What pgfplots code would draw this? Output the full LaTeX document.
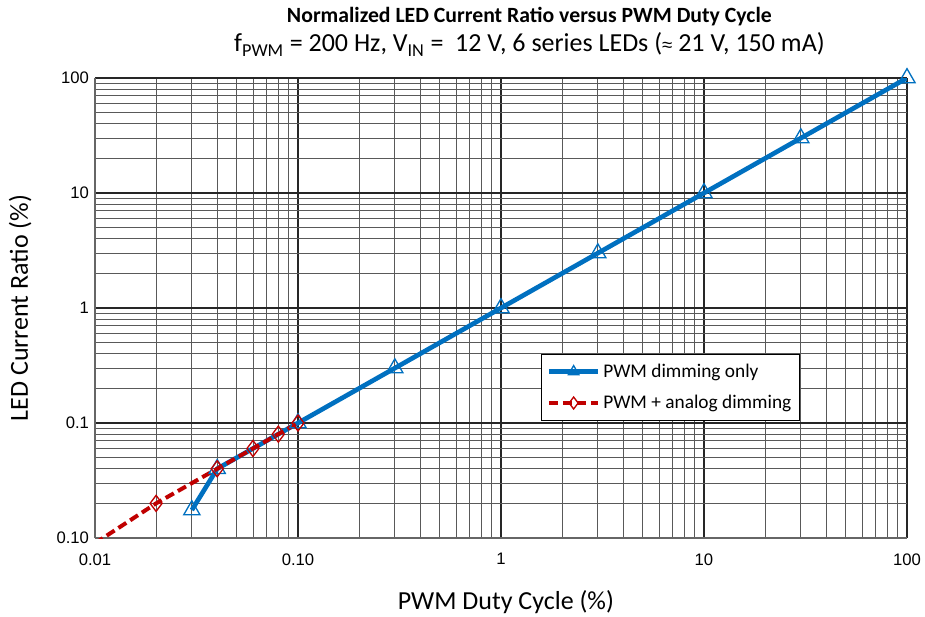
\documentclass[border=0pt]{standalone}
\usepackage{pgfplots}
\pgfplotsset{compat=1.18}
\usepackage{fontspec}
\setmainfont{Carlito}
\newfontfamily\tickfont{Liberation Sans}
\definecolor{cblue}{HTML}{0070C0}
\definecolor{cred}{HTML}{C00000}
\begin{document}
\begin{tikzpicture}
\begin{axis}[
  anchor=south west, at={(0,0)},
  scale only axis,
  width=609pt, height=345pt,
  xmode=log, ymode=log,
  xmin=0.01, xmax=100, ymin=0.01, ymax=100,
  xtick={0.01,0.1,1,10,100}, xticklabels={0.01,0.10,1,10,100},
  ytick={0.01,0.1,1,10,100}, yticklabels={0.10,0.1,1,10,100},
  minor xtick={0.02,0.03,0.04,0.05,0.06,0.07,0.08,0.09,0.2,0.3,0.4,0.5,0.6,0.7,0.8,0.9,2,3,4,5,6,7,8,9,20,30,40,50,60,70,80,90},
  minor ytick={0.02,0.03,0.04,0.05,0.06,0.07,0.08,0.09,0.2,0.3,0.4,0.5,0.6,0.7,0.8,0.9,2,3,4,5,6,7,8,9,20,30,40,50,60,70,80,90},
  major tick length=0pt, minor tick length=0pt,
  grid=both,
  major grid style={black!85, line width=0.8pt},
  minor grid style={black!65, line width=0.65pt},
  axis line style={black!60, line width=0.8pt},
  axis x line*=bottom, axis y line*=left,
  tick label style={font=\tickfont\fontsize{12.5}{14}\selectfont},
  /pgf/number format/assume math mode=true,
  xticklabel style={yshift=-8pt},
  yticklabel style={xshift=-1pt},
  xlabel={PWM Duty Cycle (\%)},
  ylabel={LED Current Ratio (\%)},
  xlabel style={font=\fontsize{19.5}{22}\selectfont, at={(axis description cs:0.506,-0.139)}, anchor=center},
  ylabel style={font=\fontsize{19.5}{22}\selectfont, at={(axis description cs:-0.092,0.5)}, anchor=center},
  title={{\fontsize{16.3}{19}\selectfont\bfseries Normalized LED Current Ratio versus PWM Duty Cycle}\\[4pt]{\fontsize{19.5}{22}\selectfont f\textsubscript{PWM} = 200 Hz, V\textsubscript{IN} =\ \ 12 V, 6 series LEDs ({\tickfont\fontsize{14}{16}\selectfont ≈} 21 V, 150 mA)}},
  title style={align=center, at={(axis description cs:0.535,1.083)}, anchor=center},
  legend style={at={(axis description cs:0.549,0.40)}, anchor=north west, draw=black, line width=0.8pt, fill=white,
    font=\fontsize{14.5}{17}\selectfont, row sep=8pt, inner xsep=4pt, inner ysep=5pt},
  legend cell align=left,
  legend image code/.code={
    \draw[#1] (0cm,0cm) -- (1.3cm,0cm);
    \draw[#1, solid, mark size=4.5pt] plot coordinates {(0.65cm,0cm)};
  },
]
\addplot[cblue, line width=3.5pt, mark=triangle, mark size=7pt, mark options={solid, line width=1pt, cblue}]
  coordinates {(0.03,0.0175) (0.04,0.04) (0.1,0.1) (0.3,0.3) (1,1) (3,3) (10,10) (30,30) (100,100)};
\addlegendentry{PWM dimming only}
\addplot[cred, line width=3pt, dash pattern=on 7pt off 3.5pt, mark=diamond, mark size=6pt, mark options={solid, line width=1pt, cred}]
  coordinates {(0.01,0.009) (0.02,0.02) (0.04,0.04) (0.06,0.06) (0.08,0.08) (0.1,0.1)};
\addlegendentry{PWM + analog dimming}
\end{axis}
\pgfresetboundingbox
\path (-71.25pt,-59.25pt) rectangle (622.5pt,403.5pt);
\end{tikzpicture}
\end{document}
